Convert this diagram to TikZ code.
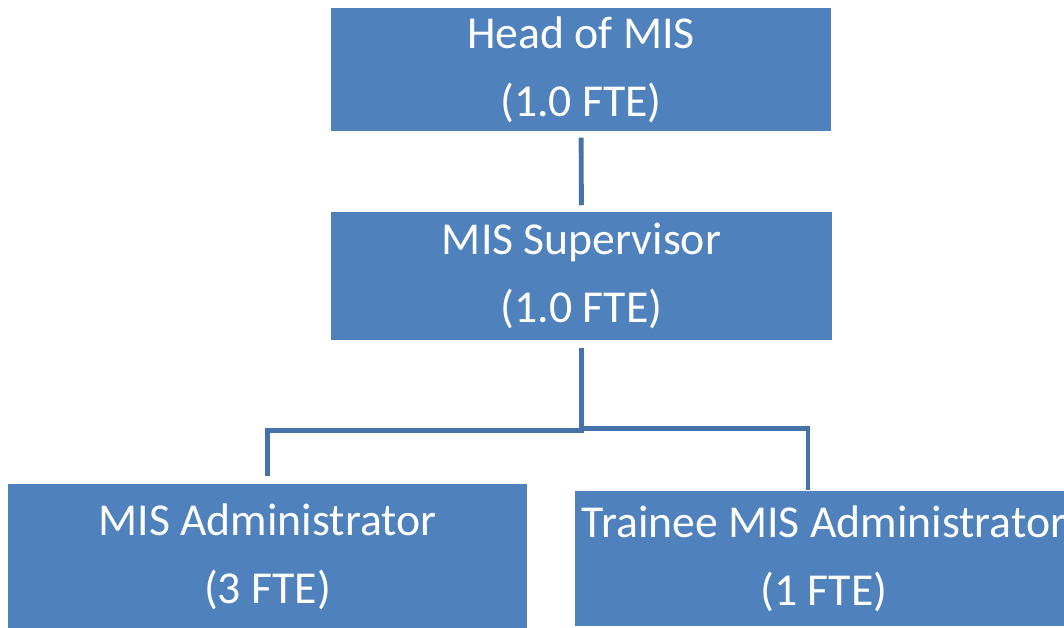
\documentclass[tikz,border=0pt]{standalone}
\usepackage{fontspec}
\setmainfont{Carlito}
\definecolor{boxblue}{HTML}{4F81BD}
\definecolor{lineblue}{HTML}{4672AA}

\begin{document}
\begin{tikzpicture}[x=0.01cm,y=-0.01cm,
    post/.style={fill=boxblue,text=white,align=center,inner sep=0pt,
      minimum width=5cm,minimum height=1.23cm,
      font=\fontsize{13}{19.4}\selectfont},
    link/.style={draw=lineblue,line width=1.4pt}]
  \path[use as bounding box,clip] (0,0) rectangle (1064,628);
  \node[post] (head) at (581,69.5) {Head of MIS\\(1.0 FTE)};
  \node[post,minimum height=1.28cm] (sup) at (581.5,276) {MIS Supervisor\\(1.0 FTE)};
  \node[post,minimum width=5.19cm,minimum height=1.45cm] (admin) at (267.5,556.5)
    {MIS Administrator\\(3 FTE)};
  \node[post,minimum width=4.98cm,minimum height=1.35cm] (trainee) at (824,558.5)
    {Trainee MIS Administrator\\(1 FTE)};
  \coordinate (tdrop) at ([xshift=-0.16cm]trainee.north);
  \draw[link,shorten <=0.06cm,shorten >=0.06cm] (head) -- (sup);
  \draw[link] ([yshift=-0.07cm]sup.south) -- ++(0,83) -| ([yshift=0.07cm]admin.north);
  \draw[link] ([yshift=-0.07cm]sup.south) -- ++(0,81) -| (tdrop);
\end{tikzpicture}
\end{document}
